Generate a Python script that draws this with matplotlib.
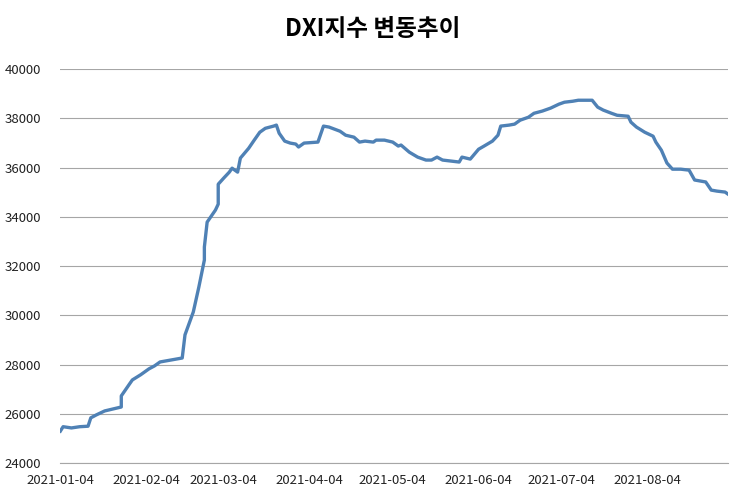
import matplotlib
matplotlib.use("Agg")
import matplotlib.pyplot as plt
import pandas as pd

day_offsets = [0,1,4,7,10,11,13,16,19,22,22,25,26,29,32,34,36,40,44,45,48,50,52,52,53,56,57,57,59,61,62,64,65,68,70,72,74,77,78,79,81,83,85,86,88,93,95,97,101,103,106,108,110,113,114,117,120,122,123,126,129,132,134,136,138,141,144,145,148,151,153,156,158,159,162,164,166,169,171,174,177,180,182,185,187,190,192,194,196,199,201,205,206,208,211,214,215,217,219,221,224,227,229,231,233,235,237,240,241]
values = [25300,25480,25430,25480,25500,25840,25960,26120,26200,26280,26730,27220,27380,27590,27830,27950,28110,28190,28270,29210,30140,31150,32250,32780,33790,34280,34520,35330,35580,35820,35980,35820,36390,36790,37120,37440,37600,37690,37730,37400,37080,37000,36960,36840,37000,37040,37690,37650,37480,37320,37240,37040,37080,37040,37120,37120,37040,36880,36920,36630,36430,36310,36310,36430,36310,36270,36230,36430,36350,36750,36880,37080,37320,37690,37730,37770,37930,38050,38210,38300,38420,38580,38660,38700,38740,38740,38740,38460,38340,38210,38130,38090,37850,37650,37440,37280,37040,36710,36190,35940,35940,35900,35500,35460,35420,35090,35050,35010,34930]
tick_labels = ["2021-01-04","2021-02-04","2021-03-04","2021-04-04","2021-05-04","2021-06-04","2021-07-04","2021-08-04"]
title = "DXI지수 변동추이"

start = pd.Timestamp("2021-01-04")
dates = [start + pd.Timedelta(days=d) for d in day_offsets]
ticks = [pd.Timestamp(t) for t in tick_labels]

plt.rcParams['font.family'] = ['Noto Sans CJK KR', 'DejaVu Sans']
fig = plt.figure(figsize=(7.45, 4.98), dpi=100)
ax = fig.add_axes([0.081, 0.070, 0.896, 0.791])
ax.plot(dates, values, color="#4f81b5", lw=2.4)
ax.set_ylim(24000, 40000)
ax.set_yticks(range(24000, 40001, 2000))
ax.set_xlim(start, start + pd.Timedelta(days=241))
ax.set_xticks(ticks)
ax.set_xticklabels(tick_labels)
ax.grid(axis='y', color='#a6a6a6', lw=0.8)
ax.set_axisbelow(True)
for s in ['top', 'right', 'left']:
    ax.spines[s].set_visible(False)
ax.spines['bottom'].set_color('#a6a6a6')
ax.tick_params(axis='both', length=0, labelsize=9.5, colors='#222222')
ax.tick_params(axis='x', pad=8)
ax.tick_params(axis='y', pad=14)
fig.suptitle(title, y=0.965, fontsize=17, fontweight='bold')
fig.savefig("out.png")
